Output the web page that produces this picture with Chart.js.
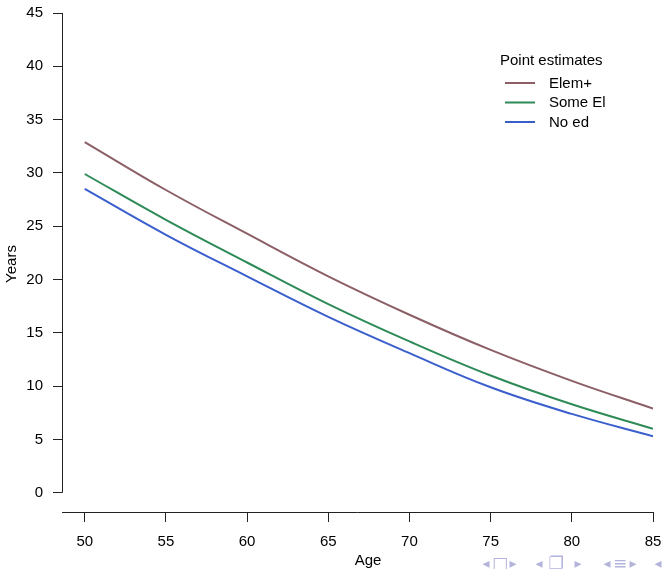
<!DOCTYPE html>
<html>
<head>
<meta charset="utf-8">
<script src="https://cdn.jsdelivr.net/npm/chart.js@4"></script>
<style>
  html, body { margin: 0; padding: 0; background: #fff; }
  #wrap { position: relative; width: 663px; height: 569px; }
  #nav { position: absolute; left: 0; top: 0; width: 663px; height: 569px; pointer-events: none;
         font-family: "DejaVu Sans", sans-serif; color: #b3b3dc; font-size: 14px; }
  #nav span { position: absolute; transform: translate(-50%, -50%); }
</style>
</head>
<body>
<div id="wrap">
  <canvas id="c" width="663" height="569"></canvas>
  <div id="nav"></div>
</div>
<script>
const ages = [50, 55, 60, 65, 70, 75, 80, 85];
const elemPlus = [32.9, 28.4, 24.3, 20.3, 16.7, 13.4, 10.5, 7.9];
const someEl = [29.9, 25.6, 21.6, 17.7, 14.2, 11.0, 8.3, 6.0];
const noEd = [28.5, 24.2, 20.3, 16.5, 13.1, 9.9, 7.4, 5.3];
const seriesLabels = ["Elem+", "Some El", "No ed"];
const seriesColors = ["#8B5F65", "#2E8B57", "#3A5FCD"];
const xTicks = [50, 55, 60, 65, 70, 75, 80, 85];
const yTicks = [0, 5, 10, 15, 20, 25, 30, 35, 40, 45];
const xTitle = "Age";
const yTitle = "Years";
const legendTitle = "Point estimates";
const navSymbols = ["◂", "□", "▸", "◂", "❐", "▸", "◂", "≡", "▸", "◂"];
const navX = [486, 500, 513, 539, 556, 578, 607, 620, 633, 658];

const nav = document.getElementById('nav');
navSymbols.forEach((s, i) => {
  const sp = document.createElement('span');
  sp.textContent = s;
  sp.style.left = navX[i] + 'px';
  sp.style.top = '563px';
  if (s === '□' || s === '❐' || s === '≡') sp.style.fontSize = '17px';
  nav.appendChild(sp);
});

Chart.defaults.font.family = '"Liberation Sans", Arial, sans-serif';
Chart.defaults.font.size = 15;
Chart.defaults.color = '#000';

const seriesData = [elemPlus, someEl, noEd];
const datasets = seriesData.map((vals, i) => ({
  label: seriesLabels[i],
  data: ages.map((a, j) => ({ x: a, y: vals[j] })),
  borderColor: seriesColors[i],
  backgroundColor: seriesColors[i],
  borderWidth: 2,
  pointRadius: 0,
  fill: false,
  tension: 0.4
}));

const rAxes = {
  id: 'rAxes',
  afterDraw(chart) {
    const ctx = chart.ctx;
    const xs = chart.scales.x, ys = chart.scales.y;
    const ca = chart.chartArea;
    ctx.save();
    ctx.strokeStyle = '#222';
    ctx.lineWidth = 1;
    const yx = Math.round(ca.left) + 0.5;
    ctx.beginPath();
    ctx.moveTo(yx, ys.getPixelForValue(yTicks[0]));
    ctx.lineTo(yx, ys.getPixelForValue(yTicks[yTicks.length - 1]));
    ctx.stroke();
    const xy = Math.round(ca.bottom) + 0.5;
    ctx.beginPath();
    ctx.moveTo(ca.left, xy);
    ctx.lineTo(xs.getPixelForValue(xTicks[xTicks.length - 1]) + 0.5, xy);
    ctx.stroke();
    ctx.fillStyle = '#000';
    ctx.font = '15px "Liberation Sans", Arial, sans-serif';
    ctx.textAlign = 'center';
    ctx.textBaseline = 'middle';
    ctx.fillText(xTitle, 368, 561);
    ctx.save();
    ctx.translate(12, 264);
    ctx.rotate(-Math.PI / 2);
    ctx.fillText(yTitle, 0, 0);
    ctx.restore();
    ctx.textAlign = 'left';
    ctx.fillText(legendTitle, 500, 61);
    const ly = [83, 102.5, 122];
    chart.data.datasets.forEach((ds, i) => {
      ctx.strokeStyle = ds.borderColor;
      ctx.lineWidth = 2;
      ctx.beginPath();
      ctx.moveTo(505, ly[i]);
      ctx.lineTo(535, ly[i]);
      ctx.stroke();
      ctx.fillStyle = '#000';
      ctx.fillText(ds.label, 549, ly[i] + 0.5);
    });
    ctx.restore();
  }
};

new Chart(document.getElementById('c'), {
  type: 'line',
  data: { datasets },
  options: {
    responsive: false,
    animation: false,
    layout: { padding: { left: 0, right: 10, top: 13, bottom: 0 } },
    plugins: { legend: { display: false }, tooltip: { enabled: false } },
    scales: {
      x: {
        type: 'linear',
        min: 48.6,
        max: 85,
        afterBuildTicks: s => { s.ticks = xTicks.map(v => ({ value: v })); },
        afterFit: s => { s.height = 57; s.paddingLeft = 0; s.paddingRight = 0; },
        border: { display: false },
        grid: { drawOnChartArea: false, drawTicks: true, tickLength: 10, color: '#222', lineWidth: 1 },
        ticks: { autoSkip: false, maxRotation: 0, padding: 11, color: '#000', font: { size: 15 } }
      },
      y: {
        type: 'linear',
        min: -1.8,
        max: 45,
        afterBuildTicks: s => { s.ticks = yTicks.map(v => ({ value: v })); },
        afterFit: s => { s.width = 62; s.paddingTop = 0; s.paddingBottom = 0; },
        border: { display: false },
        grid: { drawOnChartArea: false, drawTicks: true, tickLength: 9, color: '#222', lineWidth: 1 },
        ticks: { autoSkip: false, padding: 10, color: '#000', font: { size: 15 } }
      }
    }
  },
  plugins: [rAxes]
});
</script>
</body>
</html>
